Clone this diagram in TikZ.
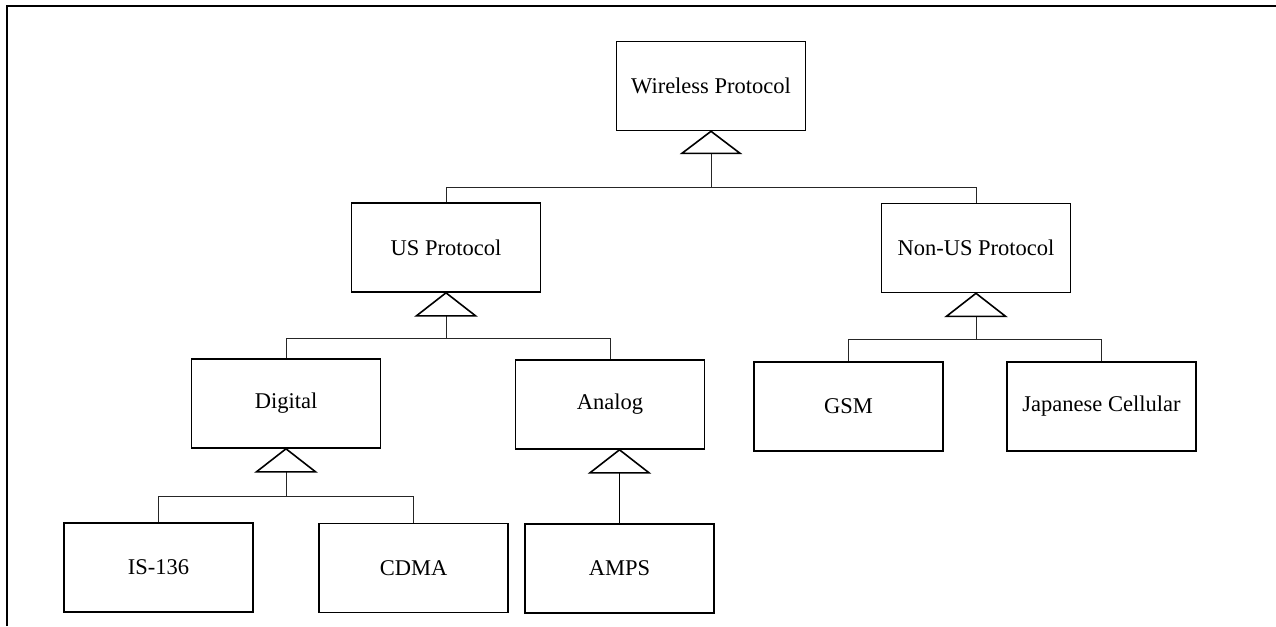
\documentclass[tikz,border=0pt]{standalone}
\usepackage{fontspec}
\setmainfont{Liberation Serif}
\usepackage{tikz}
\usetikzlibrary{calc}

\tikzset{
  box/.style={draw, line width=1.6pt, minimum width=189pt, minimum height=89pt,
    inner sep=0pt, font=\fontsize{22.5}{26}\selectfont},
  tri/.style={draw, line width=1.6pt, fill=white, line join=miter},
  link/.style={draw, line width=0.8pt, black!85},
  frame/.style={draw, line width=1.6pt}
}

\begin{document}
\begin{tikzpicture}[x=1pt,y=-1pt]
\useasboundingbox (0,0) rectangle (1276,626);
\draw[frame] (7,626) -- (7,6) -- (1276,6);
\node[box] (wp) at (711,86) {Wireless Protocol};
\node[box] (us) at (446,247.5) {US Protocol};
\node[box] (nonus) at (976,248) {Non-US Protocol};
\node[box] (dig) at (286,403.5) {Digital};
\node[box] (ana) at (610,404.5) {Analog};
\node[box] (gsm) at (848.5,406.5) {GSM};
\node[box] (jap) at (1101.5,406.5) {Japanese Cellular};
\node[box] (is) at (158.5,567.5) {IS-136};
\node[box] (cdma) at (413.5,568) {CDMA};
\node[box] (amps) at (619.5,568.5) {AMPS};
% wireless protocol
\draw[link] (wp.south) ++(0,22) -- ++(0,34) coordinate (wpbus);
\draw[link] (us.north) |- (wpbus) -| (nonus.north);
\draw[tri] (wp.south) -- ++(29,22) -- ++(-58,0) -- cycle;
% us protocol
\draw[link] (us.south) ++(0,23) -- ++(0,23) coordinate (usbus);
\draw[link] (dig.north) |- (usbus) -| (ana.north);
\draw[tri] (us.south) -- ++(29.5,23) -- ++(-59,0) -- cycle;
% non-us protocol
\draw[link] (nonus.south) ++(0,23) -- ++(0,23) coordinate (nonusbus);
\draw[link] (gsm.north) |- (nonusbus) -| (jap.north);
\draw[tri] (nonus.south) -- ++(29.5,23) -- ++(-59,0) -- cycle;
% digital
\draw[link] (dig.south) ++(0,23) -- ++(0,25) coordinate (digbus);
\draw[link] (is.north) |- (digbus) -| (cdma.north);
\draw[tri] (dig.south) -- ++(29.5,23) -- ++(-59,0) -- cycle;
% analog
\coordinate (anatip) at (amps.north |- ana.south);
\draw[tri] (anatip) ++(0,23) -- (amps.north);
\draw[tri] (anatip) -- ++(29.5,23) -- ++(-59,0) -- cycle;
\end{tikzpicture}
\end{document}
